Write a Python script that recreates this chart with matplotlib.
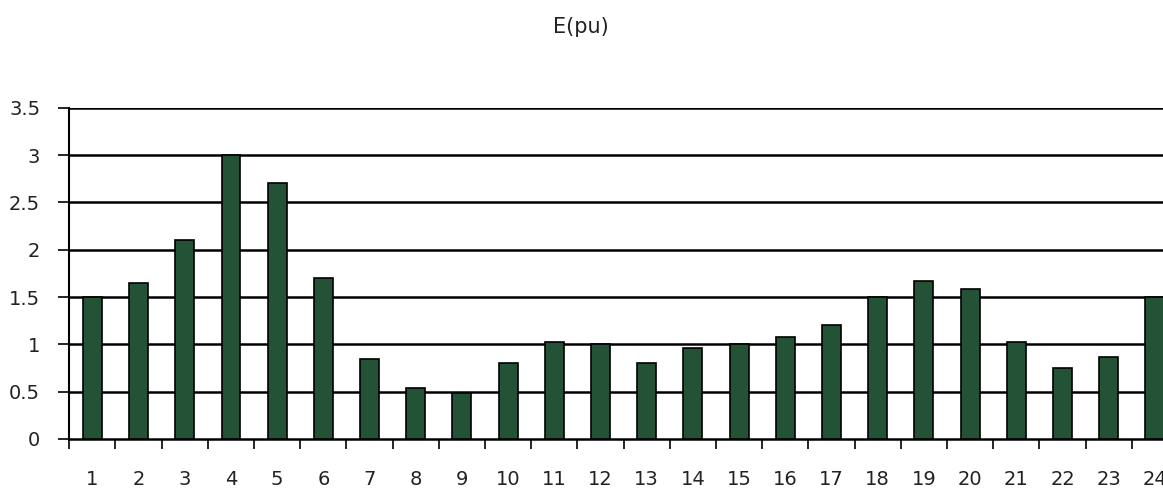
import matplotlib
matplotlib.use("Agg")
import matplotlib.pyplot as plt
import numpy as np

categories = [str(i) for i in range(1, 25)]
values = [1.5, 1.65, 2.1, 3.0, 2.7, 1.7, 0.85, 0.54, 0.49, 0.8, 1.03, 1.0,
          0.8, 0.96, 1.0, 1.08, 1.2, 1.5, 1.67, 1.58, 1.03, 0.75, 0.87, 1.5]
yticks = [0, 0.5, 1, 1.5, 2, 2.5, 3, 3.5]
ytick_labels = ["0", "0.5", "1", "1.5", "2", "2.5", "3", "3.5"]
title = "E(pu)"

plt.rcParams['font.family'] = ['DejaVu Sans']

fig = plt.figure(figsize=(11.63, 4.88), dpi=100)
ax = fig.add_axes([69.3 / 1163, 49 / 488, (1178 - 69.3) / 1163, (439 - 107.7) / 488])

x = np.arange(1, len(values) + 1)
ax.bar(x, values, width=0.41, color='#245236', edgecolor='black', linewidth=1.2, zorder=3)

ax.set_xlim(0.5, len(values) + 0.5)
ax.set_ylim(0, 3.5)
ax.set_yticks(yticks)
ax.set_yticklabels(ytick_labels, fontsize=14, color='#222222')
ax.set_xticks(x)
ax.set_xticklabels(categories, fontsize=14, color='#222222')
ax.set_xticks(np.arange(0.5, len(values) + 1, 1), minor=True)
ax.tick_params(axis='x', which='major', length=0, pad=22)
ax.tick_params(axis='x', which='minor', length=7, width=1.2, direction='out', color='black')
ax.tick_params(axis='y', length=8, width=1.2, pad=13, direction='out')

for yv in yticks[1:]:
    ax.axhline(yv, color='black', linewidth=1.8, zorder=1)

for s in ['top', 'right']:
    ax.spines[s].set_visible(False)
ax.spines['left'].set_linewidth(1.5)
ax.spines['bottom'].set_linewidth(1.8)

fig.text(581 / 1163, 1 - 27 / 488, title, ha='center', va='center', fontsize=15, color='#222222')

fig.savefig('out.png', dpi=100)
